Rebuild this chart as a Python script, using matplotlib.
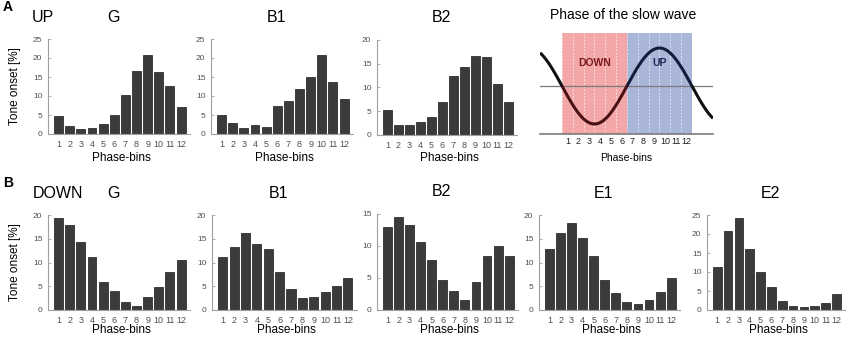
import numpy as np
import matplotlib
matplotlib.use('Agg')
import matplotlib.pyplot as plt

plt.rcParams['font.family'] = ['Liberation Sans', 'DejaVu Sans']

bins = list(range(1, 13))

# panel A: tone onset during UP states
up_G = [4.7, 2.2, 1.3, 1.6, 2.6, 5.0, 10.2, 16.5, 20.9, 16.3, 12.7, 7.2]
up_B1 = [5.1, 3.0, 1.7, 2.3, 1.9, 7.3, 8.7, 11.8, 15.0, 20.7, 13.7, 9.2]
up_B2 = [5.2, 2.0, 2.2, 2.7, 3.7, 6.9, 12.4, 14.3, 16.7, 16.4, 10.8, 6.9]

# panel B: tone onset during DOWN states
down_G = [19.4, 17.9, 14.3, 11.2, 5.8, 3.9, 1.6, 0.85, 2.75, 4.9, 8.1, 10.6]
down_B1 = [11.1, 13.2, 16.3, 13.9, 12.8, 8.0, 4.35, 2.45, 2.65, 3.7, 5.05, 6.65]
down_B2 = [12.9, 14.5, 13.3, 10.6, 7.8, 4.7, 3.0, 1.6, 4.3, 8.4, 10.0, 8.4]
down_E1 = [12.9, 16.3, 18.4, 15.1, 11.4, 6.4, 3.6, 1.75, 1.25, 2.1, 3.7, 6.7]
down_E2 = [11.2, 20.9, 24.3, 16.0, 9.9, 6.0, 2.5, 1.05, 0.7, 1.05, 1.9, 4.3]

W, H = 850, 338
fig = plt.figure(figsize=(W / 100, H / 100), dpi=100)


def fx(px):
    return px / W


def fy(py):
    return 1 - py / H


def bar_panel(x0, x1, ytop, ybot, vals, ymax, title, xlab_y, ylab=False):
    ax = fig.add_axes([fx(x0), fy(ybot), fx(x1 - x0), (ybot - ytop) / H])
    ax.bar(bins, vals, width=0.8, color='#3b3b3b', edgecolor='#1a1a1a', linewidth=0.5)
    ax.set_xlim(0.05, 12.8)
    ax.set_ylim(0, ymax)
    ax.set_xticks(bins)
    ax.set_yticks(np.arange(0, ymax + 1, 5))
    for s in ['top', 'right']:
        ax.spines[s].set_visible(False)
    for s in ['left', 'bottom']:
        ax.spines[s].set_color('#a0a0a0')
        ax.spines[s].set_linewidth(0.8)
    ax.tick_params(axis='x', length=0, labelsize=6.5, labelcolor='#505050', pad=4)
    ax.tick_params(axis='y', length=2, direction='in', width=0.6, color='#a0a0a0',
                   labelsize=6, labelcolor='#505050', pad=4)
    xc = (x0 + x1) / 2
    fig.text(fx(xc + 2), fy(xlab_y), 'Phase-bins', ha='center', va='center', fontsize=8.5)
    fig.text(fx(xc - 6), fy(ytop - 22), title, ha='center', va='center', fontsize=11.5)
    if ylab:
        fig.text(fx(15), fy((ytop + ybot) / 2), 'Tone onset [%]', rotation=90,
                 ha='center', va='center', fontsize=8.5)
    return ax


# row A
bar_panel(48, 190, 39, 134, up_G, 25, 'G', 158, ylab=True)
bar_panel(211, 353, 39, 134, up_B1, 25, 'B1', 158)
bar_panel(377, 517, 40, 135, up_B2, 20, 'B2', 158)

# row B
bar_panel(48, 190, 215, 310, down_G, 20, 'G', 330, ylab=True)
bar_panel(212, 357, 215, 310, down_B1, 20, 'B1', 330)
bar_panel(377, 518, 214, 310, down_B2, 15, 'B2', 330)
bar_panel(539, 680, 215, 310, down_E1, 20, 'E1', 330)
bar_panel(707, 845, 215, 310, down_E2, 25, 'E2', 330)

# schematic of the slow wave phase
ax = fig.add_axes([fx(540), fy(134), fx(713 - 540), (134 - 33) / H])
ax.set_xlim(-2.03, 13.94)
ax.set_ylim(-1.263, 1.395)
ax.axis('off')
ax.axvspan(0, 6, color='#f4a7a8', lw=0, zorder=1)
ax.axvspan(6, 12, color='#aab6d8', lw=0, zorder=1)
for e in range(13):
    ax.axvline(e, color='white', lw=0.6, ls=(0, (2, 2)), alpha=0.8, zorder=2)
ax.axhline(0, color='#7a7a7a', lw=0.9, zorder=3)
ax.axhline(-1.263, color='#7a7a7a', lw=1.2, zorder=3, clip_on=False)
t = np.linspace(-2.03, 13.94, 600)
wave = -np.sin(2 * np.pi * t / 12)
for lo, hi, c in [(-2.03, 0, '#111111'), (0, 6, '#4a1216'), (6, 12, '#141c3c'), (12, 13.94, '#111111')]:
    m = (t >= lo - 0.03) & (t <= hi + 0.03)
    ax.plot(t[m], wave[m], color=c, lw=2.2, zorder=4, solid_capstyle='butt')
ax.text(3, 0.6, 'DOWN', ha='center', va='center', fontsize=7.5, fontweight='bold',
        color='#7a1a1e', zorder=5)
ax.text(9, 0.6, 'UP', ha='center', va='center', fontsize=7.5, fontweight='bold',
        color='#1c2a55', zorder=5)
for b in bins:
    ax.text(b - 0.5, -1.45, str(b), ha='center', va='center', fontsize=6.5, color='#202020')
fig.text(fx(626), fy(158), 'Phase-bins', ha='center', va='center', fontsize=7.5)
fig.text(fx(623), fy(15), 'Phase of the slow wave', ha='center', va='center', fontsize=10)

# panel labels
fig.text(fx(3), fy(7), 'A', ha='left', va='center', fontsize=10, fontweight='bold')
fig.text(fx(43), fy(17), 'UP', ha='center', va='center', fontsize=11.5)
fig.text(fx(3), fy(183), 'B', ha='left', va='center', fontsize=10, fontweight='bold')
fig.text(fx(58), fy(193), 'DOWN', ha='center', va='center', fontsize=11.5)

fig.savefig('out.png', dpi=100)
